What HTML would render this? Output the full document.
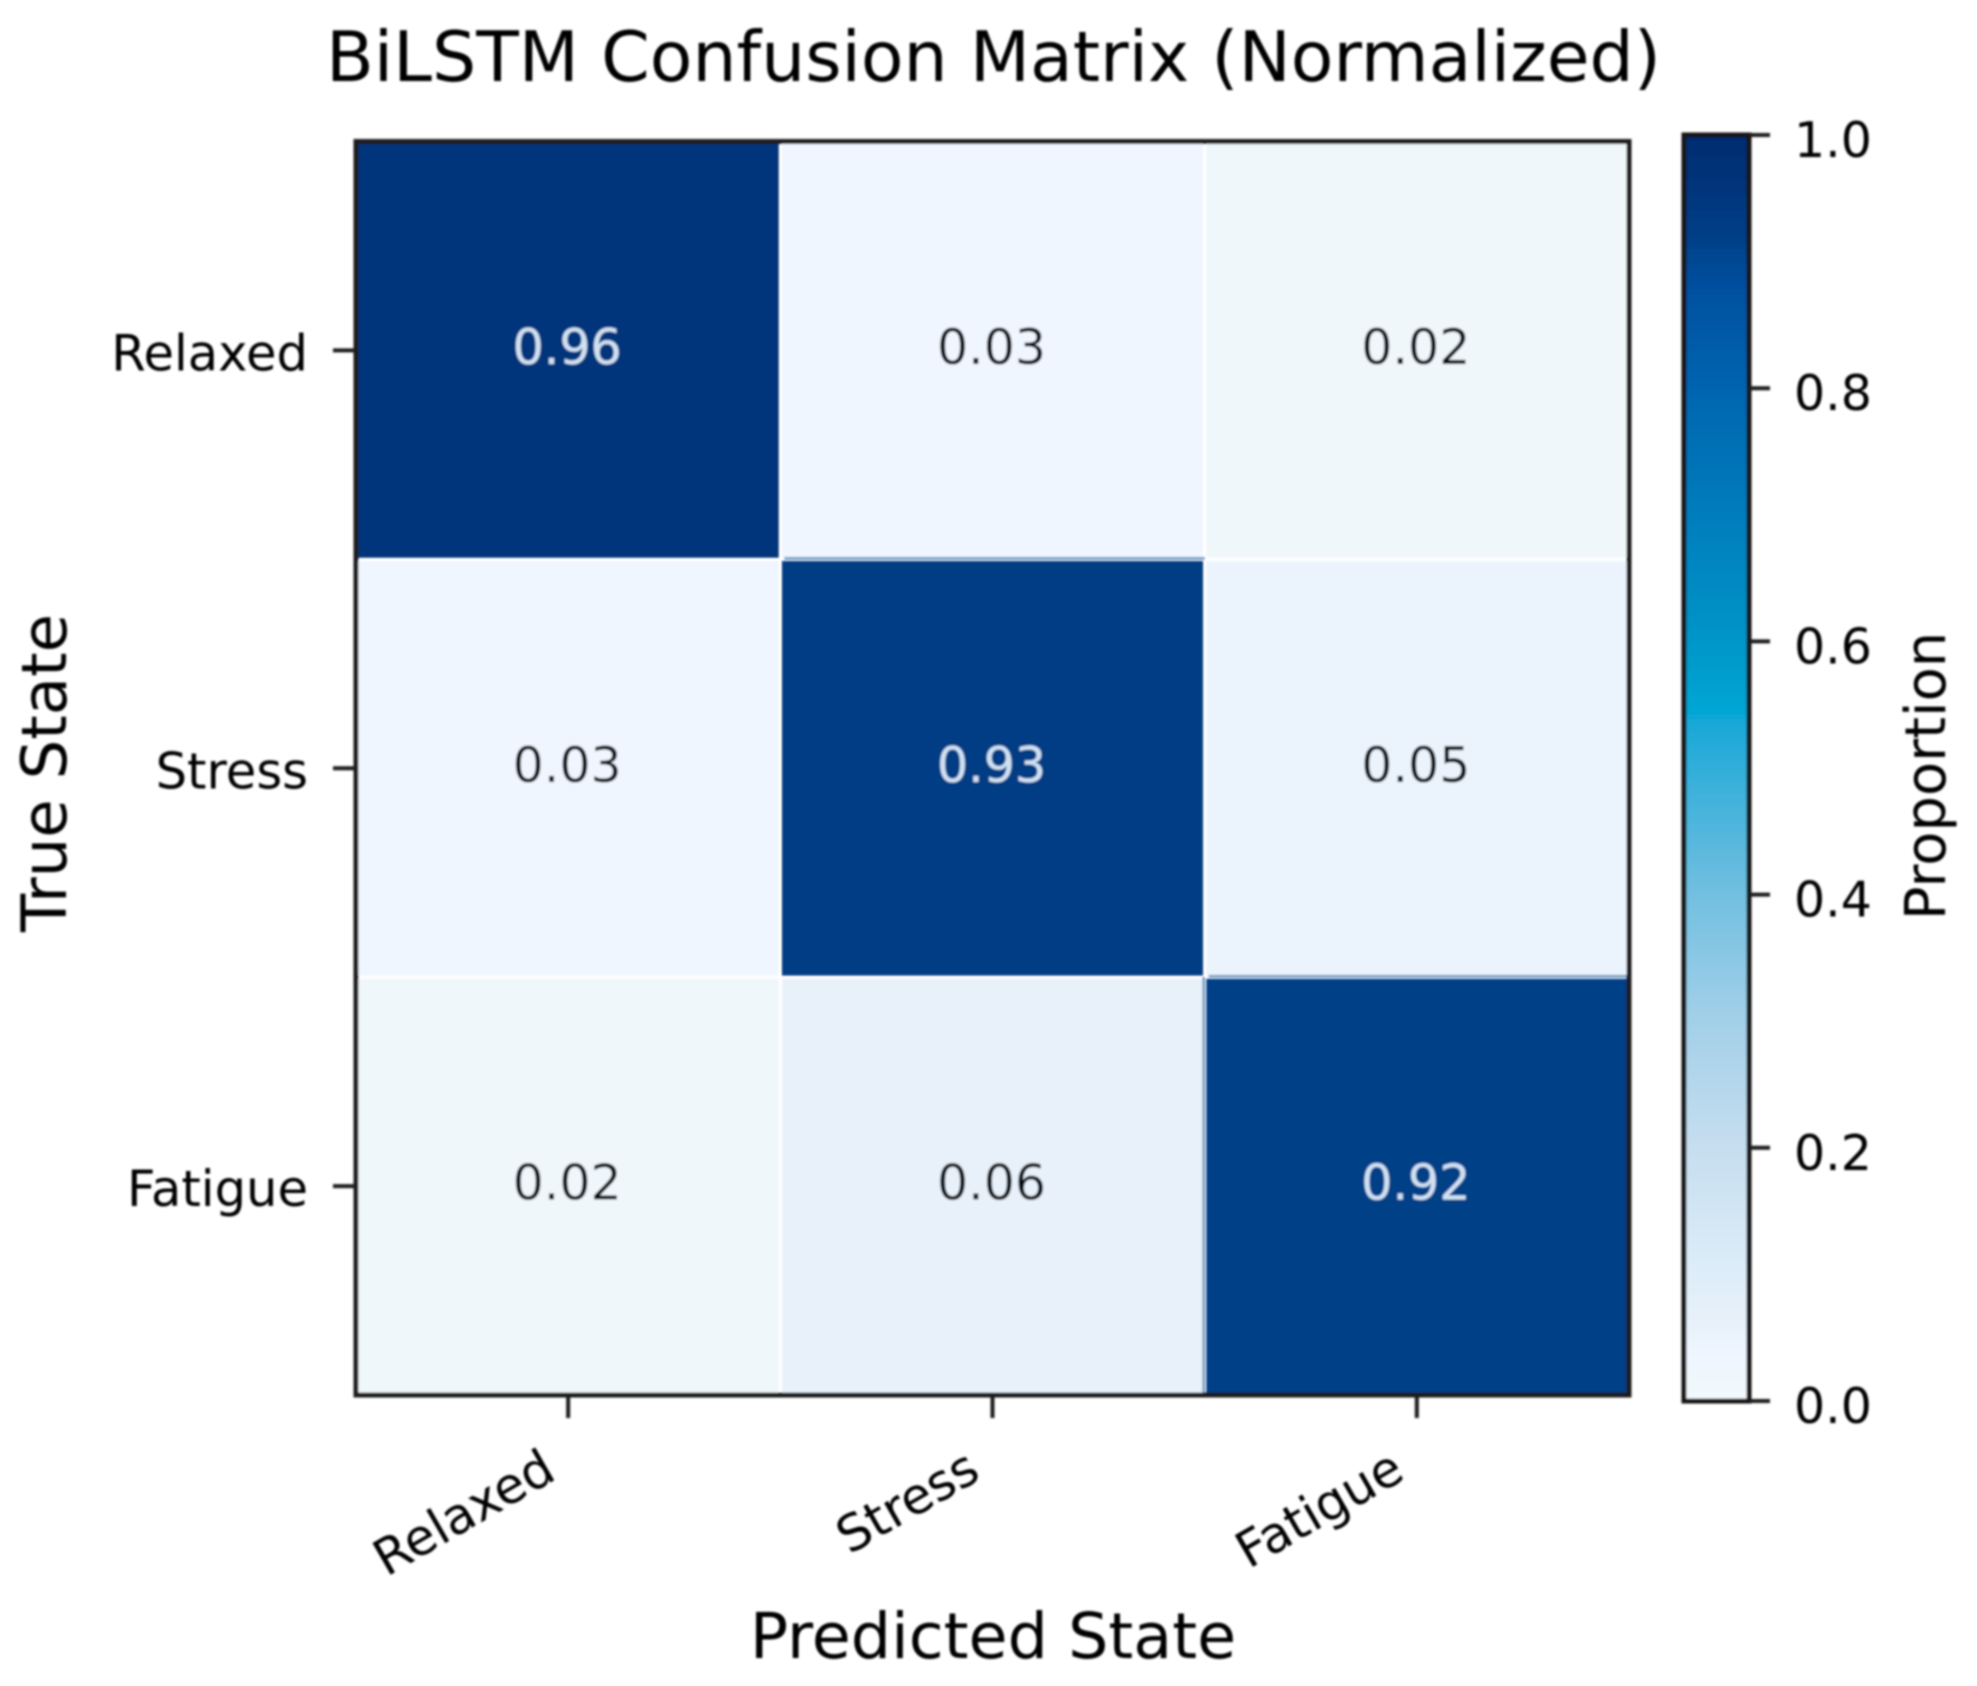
<!DOCTYPE html>
<html lang="en">
<head>
<meta charset="utf-8">
<title>BiLSTM Confusion Matrix (Normalized)</title>
<style>
html,body{margin:0;padding:0;background:#fff;width:1977px;height:1686px;overflow:hidden}
svg{display:block}
text{font-family:"DejaVu Sans","Liberation Sans",sans-serif;fill:#050505}
</style>
</head>
<body>
<svg id="chart" xmlns="http://www.w3.org/2000/svg" width="1977" height="1686" viewBox="0 0 1977 1686">
<defs><filter id="soft" x="0" y="0" width="100%" height="100%" filterUnits="userSpaceOnUse" primitiveUnits="userSpaceOnUse"><feGaussianBlur stdDeviation="1"/></filter></defs>
<rect width="1977" height="1686" fill="#fff"/>
<g id="root" filter="url(#soft)" style="filter:url(#soft)"></g>
</svg>
<script>
const categories = ["Relaxed", "Stress", "Fatigue"];
const matrixRow0 = [0.96, 0.03, 0.02];
const matrixRow1 = [0.03, 0.93, 0.05];
const matrixRow2 = [0.02, 0.06, 0.92];
const matrix = [matrixRow0, matrixRow1, matrixRow2];
const colorbarTicks = [0, 0.2, 0.4, 0.6, 0.8, 1];
const colorbarTickLabels = ["0.0", "0.2", "0.4", "0.6", "0.8", "1.0"];
const rampValues = [0, 0.02, 0.03, 0.05, 0.06, 0.1, 0.2, 0.3, 0.4, 0.5, 0.535, 0.545, 0.6, 0.7, 0.8, 0.88, 0.92, 0.96, 1];
const rampColors = ["#f3f9fe", "#eff7fb", "#f0f6ff", "#ebf4fd", "#e8f1fa", "#deedf9", "#c6deef", "#a3d0e9", "#72bfe0", "#32aeda", "#1aa8d6", "#00a6d4", "#0096c8", "#007dbc", "#0065b0", "#0050a0", "#003f87", "#00357b", "#002c70"];

const svgNS = "http://www.w3.org/2000/svg";
const root = document.getElementById("root");
const plot = {left: 356, right: 1629, top: 141.5, bottom: 1395};
const bar = {left: 1684, right: 1749, top: 135, bottom: 1401};

function xScale(v) { return plot.left + (plot.right - plot.left) * (v + 0.5) / categories.length; }
function yScale(v) { return plot.top + (plot.bottom - plot.top) * (v + 0.5) / categories.length; }
function barScale(v) { return bar.bottom - (bar.bottom - bar.top) * v; }
function hexToRgb(h) { return [1, 3, 5].map(function (i) { return parseInt(h.substr(i, 2), 16); }); }
function colorFor(v) {
  let i = 0;
  while (i < rampValues.length - 2 && v > rampValues[i + 1]) i++;
  const t = Math.max(0, Math.min(1, (v - rampValues[i]) / (rampValues[i + 1] - rampValues[i])));
  const a = hexToRgb(rampColors[i]), b = hexToRgb(rampColors[i + 1]);
  return "rgb(" + a.map(function (c, k) { return Math.round(c + (b[k] - c) * t); }).join(",") + ")";
}
function make(tag, attrs, text) {
  const el = document.createElementNS(svgNS, tag);
  Object.keys(attrs).forEach(function (k) { el.setAttribute(k, attrs[k]); });
  if (text !== undefined) el.textContent = text;
  root.appendChild(el);
  return el;
}
function line(x1, y1, x2, y2, w, c) {
  return make("line", {x1: x1, y1: y1, x2: x2, y2: y2, "stroke-width": w, stroke: c || "#1d1d1d"});
}

/* heatmap cells */
const gap = 1.6;
matrix.forEach(function (row, r) {
  row.forEach(function (value, c) {
    const x0 = xScale(c - 0.5), x1 = xScale(c + 0.5), y0 = yScale(r - 0.5), y1 = yScale(r + 0.5);
    const cell = make("rect", {x: x0 + gap, y: y0 + gap, width: x1 - x0 - 2 * gap, height: y1 - y0 - 2 * gap, fill: colorFor(value)});
    
    
    if (value > 0.5 && r > 0) {
      const topEdge = line(x0 + 4, y0 - 1, x1, y0 - 1, 2.4, "#5f8fbd");
      
      
    }
    if (value > 0.5 && r > 1) {
      const leftEdge = line(x0 - 1, y0, x0 - 1, y1, 2.4, "#5f8fbd");
      
      
    }
    const label = make("text", {x: (x0 + x1) / 2 - 1, y: (y0 + y1) / 2 + 13.5, "text-anchor": "middle", "font-size": 49}, value.toFixed(2));
    label.style.fill = value > 0.5 ? "#cfe2f4" : "#000814";
    
    
  });
});

/* axes frame */
const frame = make("rect", {x: plot.left, y: plot.top, width: plot.right - plot.left, height: plot.bottom - plot.top, fill: "none", stroke: "#1f1f1f", "stroke-width": 5});



/* axis ticks and labels */
categories.forEach(function (name, i) {
  const xt = line(xScale(i), plot.bottom, xScale(i), plot.bottom + 23, 4);
  
  
  const lx = xScale(i) - 10, ly = plot.bottom + 83;
  const xl = make("text", {x: lx, y: ly, "text-anchor": "end", "font-size": 50, transform: "rotate(-30 " + lx + " " + ly + ")"}, name);
  
  
  const yt = line(plot.left - 23, yScale(i), plot.left, yScale(i), 4);
  
  
  const yl = make("text", {x: 308, y: yScale(i) + 20, "text-anchor": "end", "font-size": 49.6}, name);
  
  
});

/* colorbar */
const bandCount = 256;
for (let i = 0; i < bandCount; i++) {
  const v0 = i / bandCount, v1 = (i + 1) / bandCount;
  const band = make("rect", {x: bar.left, y: barScale(v1), width: bar.right - bar.left, height: barScale(v0) - barScale(v1) + 0.6, fill: colorFor((v0 + v1) / 2)});
  
  
}
const barFrame = make("rect", {x: bar.left, y: bar.top, width: bar.right - bar.left, height: bar.bottom - bar.top, fill: "none", stroke: "#171717", "stroke-width": 5});


colorbarTicks.forEach(function (v, i) {
  const t = line(bar.right, barScale(v), bar.right + 21, barScale(v), 4);
  
  
  const l = make("text", {x: 1794, y: barScale(v) + 22, "font-size": 49}, colorbarTickLabels[i]);
  
  
});

/* titles */
const title = make("text", {x: 326, y: 81, "font-size": 69.7}, "BiLSTM Confusion Matrix (Normalized)");


const xTitle = make("text", {x: 993, y: 1658, "text-anchor": "middle", "font-size": 63.5}, "Predicted State");


const yTitle = make("text", {x: 0, y: 0, "text-anchor": "middle", "font-size": 62.5, transform: "translate(66 773) rotate(-90)"}, "True State");


const barTitle = make("text", {x: 0, y: 0, "text-anchor": "middle", "font-size": 55.9, transform: "translate(1945 776) rotate(-90)"}, "Proportion");


</script>
</body>
</html>
